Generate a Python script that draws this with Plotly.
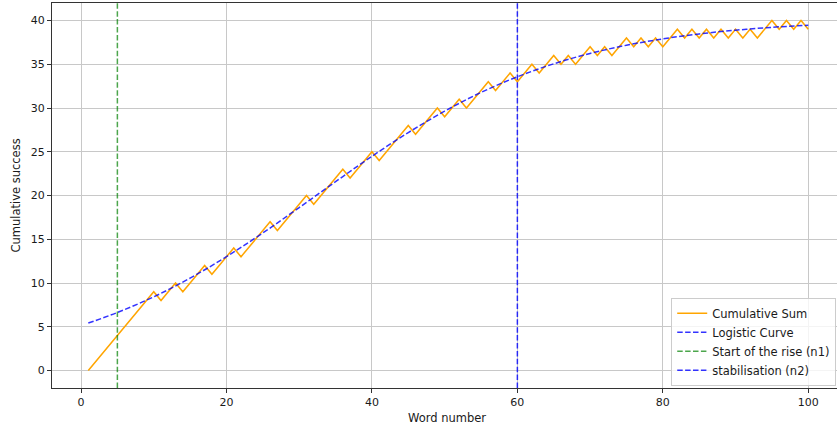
import plotly.graph_objects as go

# ---- data ----
words = list(range(1, 101))
cumulative = [0, 1, 2, 3, 4, 5, 6, 7, 8, 9,
              8, 9, 10, 9, 10, 11, 12, 11, 12, 13,
              14, 13, 14, 15, 16, 17, 16, 17, 18, 19,
              20, 19, 20, 21, 22, 23, 22, 23, 24, 25,
              24, 25, 26, 27, 28, 27, 28, 29, 30, 29,
              30, 31, 30, 31, 32, 33, 32, 33, 34, 33,
              34, 35, 34, 35, 36, 35, 36, 35, 36, 37,
              36, 37, 36, 37, 38, 37, 38, 37, 38, 37,
              38, 39, 38, 39, 38, 39, 38, 39, 38, 39,
              38, 39, 38, 39, 40, 39, 40, 39, 40, 39]

logistic_x = [1, 5, 10, 15, 20, 25, 30, 35, 40, 45, 50,
              55, 60, 65, 70, 75, 80, 85, 90, 95, 100]
logistic_y = [5.42, 6.63, 8.42, 10.56, 13.01, 15.72, 18.62, 21.58, 24.48, 27.19, 29.64,
              31.78, 33.57, 35.05, 36.24, 37.17, 37.90, 38.46, 38.89, 39.22, 39.46]

n1 = 5
n2 = 60

x_ticks = [0, 20, 40, 60, 80, 100]
y_ticks = [0, 5, 10, 15, 20, 25, 30, 35, 40]
y_range = [-2, 42]
x_range = [-3.99, 103.95]

font_family = "DejaVu Sans"
text_color = "#1a1a1a"
grid_color = "#c8c8c8"
dash = "5.5px,2.4px"

fig = go.Figure()
fig.add_trace(go.Scatter(x=words, y=cumulative, mode="lines", name="Cumulative Sum",
                         line=dict(color="#FFA500", width=1.5)))
fig.add_trace(go.Scatter(x=logistic_x, y=logistic_y, mode="lines", name="Logistic Curve",
                         line=dict(color="rgba(0,0,255,0.8)", width=1.5, dash=dash, shape="spline")))
fig.add_trace(go.Scatter(x=[n1, n1], y=y_range, mode="lines", name="Start of the rise (n1)",
                         line=dict(color="rgba(0,128,0,0.7)", width=1.5, dash=dash)))
fig.add_trace(go.Scatter(x=[n2, n2], y=y_range, mode="lines", name="stabilisation (n2)",
                         line=dict(color="rgba(0,0,255,0.8)", width=1.5, dash=dash)))

fig.update_layout(
    width=837, height=427,
    margin=dict(l=52, r=0, t=3, b=39),
    plot_bgcolor="white", paper_bgcolor="white",
    font=dict(family=font_family, size=11, color=text_color),
    showlegend=True,
    legend=dict(x=0.999, xanchor="right", y=0.006, yanchor="bottom",
                bgcolor="rgba(255,255,255,0.8)", bordercolor="#cccccc", borderwidth=1,
                font=dict(size=11.5, color=text_color), itemwidth=30,
                tracegroupgap=0),
    xaxis=dict(range=x_range, tickvals=x_ticks, ticks="outside", ticklen=4, tickcolor="#333",
               showgrid=True, gridcolor=grid_color, gridwidth=1, zeroline=False,
               showline=True, linecolor="#333", linewidth=1, mirror=True,
               tickfont=dict(size=11, color=text_color)),
    yaxis=dict(range=y_range, tickvals=y_ticks, ticks="outside", ticklen=4, tickcolor="#333",
               showgrid=True, gridcolor=grid_color, gridwidth=1, zeroline=False,
               showline=True, linecolor="#333", linewidth=1, mirror=False,
               tickfont=dict(size=11, color=text_color)),
    annotations=[
        dict(text="Word number", xref="paper", yref="paper", x=0.503, y=-0.078,
             xanchor="center", yanchor="middle", showarrow=False,
             font=dict(size=11.5, color=text_color)),
        dict(text="Cumulative success", xref="paper", yref="paper", x=-0.047, y=0.5,
             xanchor="center", yanchor="middle", textangle=-90, showarrow=False,
             font=dict(size=11.5, color=text_color)),
    ],
)

fig.write_html("out.html", config={"displayModeBar": False},
               post_script="document.body.style.margin='0';document.body.style.overflow='hidden';")
